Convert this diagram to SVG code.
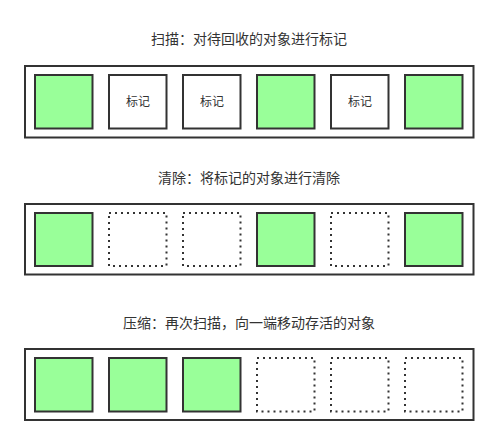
<svg xmlns="http://www.w3.org/2000/svg" width="499" height="446" viewBox="0 0 499 446">
<style>
.title{font-family:"Noto Sans CJK SC","Liberation Sans",sans-serif;font-size:14px;fill:#333;text-anchor:middle}
.lbl{font-family:"Noto Sans CJK SC","Liberation Sans",sans-serif;font-size:12px;fill:#333;text-anchor:middle}
.outer{fill:#fff;stroke:#333;stroke-width:2}
.live{fill:#99ff99;stroke:#333;stroke-width:2}
.mark{fill:#fff;stroke:#333;stroke-width:2}
.freed{fill:#fff;stroke:#333;stroke-width:2;stroke-dasharray:2 4}
</style>
<rect width="499" height="446" fill="#fff"/>
<g id="connectors"></g>

<g id="row1">
<text class="title" x="249" y="44">扫描：对待回收的对象进行标记</text>
<rect class="outer" x="25" y="66" width="448.5" height="71.5"/>
<g id="r1-b1"><rect class="live" x="35" y="75" width="57.5" height="53.5"/></g>
<g id="r1-b2"><rect class="mark" x="109" y="75" width="57.5" height="53.5"/><text class="lbl" x="138" y="106">标记</text></g>
<g id="r1-b3"><rect class="mark" x="183" y="75" width="57.5" height="53.5"/><text class="lbl" x="212" y="106">标记</text></g>
<g id="r1-b4"><rect class="live" x="257" y="75" width="57.5" height="53.5"/></g>
<g id="r1-b5"><rect class="mark" x="331" y="75" width="57.5" height="53.5"/><text class="lbl" x="360" y="106">标记</text></g>
<g id="r1-b6"><rect class="live" x="405" y="75" width="57.5" height="53.5"/></g>
</g>

<g id="row2">
<text class="title" x="249" y="183">清除：将标记的对象进行清除</text>
<rect class="outer" x="25" y="204" width="448.5" height="70.5"/>
<g id="r2-b1"><rect class="live" x="35" y="213" width="57.5" height="53"/></g>
<g id="r2-b2"><rect class="freed" x="109" y="213" width="57.5" height="53"/></g>
<g id="r2-b3"><rect class="freed" x="183" y="213" width="57.5" height="53"/></g>
<g id="r2-b4"><rect class="live" x="257" y="213" width="57.5" height="53"/></g>
<g id="r2-b5"><rect class="freed" x="331" y="213" width="57.5" height="53"/></g>
<g id="r2-b6"><rect class="live" x="405" y="213" width="57.5" height="53"/></g>
</g>

<g id="row3">
<text class="title" x="249" y="328">压缩：再次扫描，向一端移动存活的对象</text>
<rect class="outer" x="25" y="349" width="448.5" height="71"/>
<g id="r3-b1"><rect class="live" x="35" y="358" width="57.5" height="53.5"/></g>
<g id="r3-b2"><rect class="live" x="109" y="358" width="57.5" height="53.5"/></g>
<g id="r3-b3"><rect class="live" x="183" y="358" width="57.5" height="53.5"/></g>
<g id="r3-b4"><rect class="freed" x="257" y="358" width="57.5" height="53.5"/></g>
<g id="r3-b5"><rect class="freed" x="331" y="358" width="57.5" height="53.5"/></g>
<g id="r3-b6"><rect class="freed" x="405" y="358" width="57.5" height="53.5"/></g>
</g>
</svg>
